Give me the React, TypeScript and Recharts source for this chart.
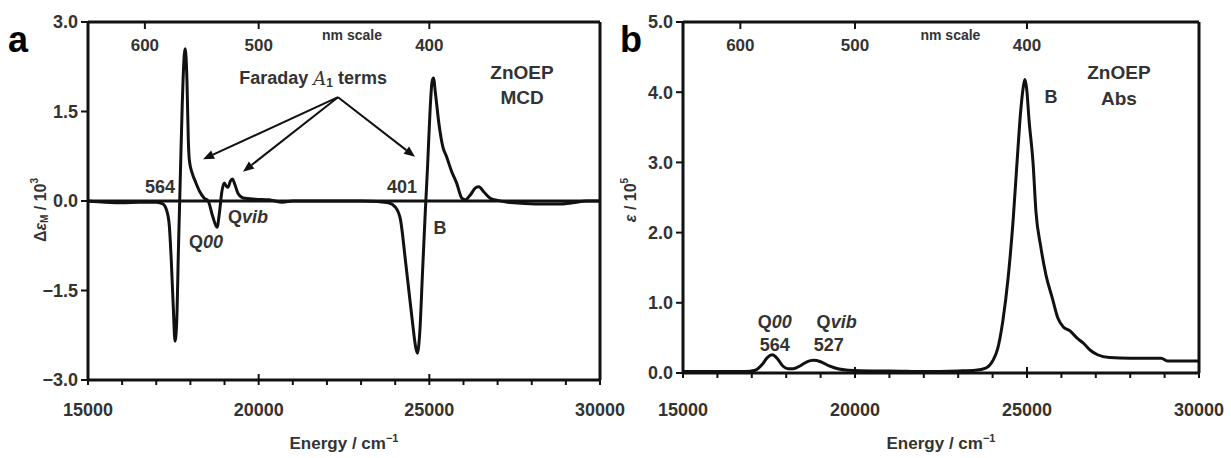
import React from 'react';
import { LineChart, Line, XAxis, YAxis, ReferenceLine, ReferenceDot } from 'recharts';

// ---------- data ----------
const mcdEnergy = [
  15000, 15500, 16000, 16500, 17000, 17200, 17300, 17380, 17440, 17500, 17550, 17600, 17650, 17700,
  17760, 17820, 17850, 17900, 17940, 17970, 18050, 18150, 18280, 18400, 18520, 18650, 18780, 18850,
  18920, 18990, 19050, 19100, 19170, 19230, 19300, 19400, 19550, 19900, 20300, 20700, 21000, 22000,
  23000, 23500, 23800, 24000, 24150, 24300, 24400, 24500, 24600, 24650, 24720, 24800, 24880, 24950,
  25020, 25080, 25120, 25180, 25280, 25400, 25500, 25650, 25800, 25950, 26050, 26200, 26350, 26450,
  26600, 26800, 27000, 27300, 27800, 28300, 28800, 29200, 29600, 30000,
];
const mcdValue = [
  0, -0.02, -0.03, -0.02, -0.02, -0.05, -0.15, -0.4, -1.0, -1.8, -2.35, -2.0, -0.8, 0.3,
  1.6, 2.45, 2.55, 2.0, 1.0, 0.68, 0.47, 0.32, 0.15, 0.05, 0, -0.25, -0.44, -0.2,
  0.15, 0.3, 0.25, 0.23, 0.33, 0.37, 0.28, 0.12, 0.05, 0.03, 0.02, -0.02, 0, 0,
  0, -0.01, -0.03, -0.1, -0.3, -1.0, -1.5, -2.0, -2.45, -2.55, -2.2, -1.2, -0.2, 0.6,
  1.5, 2.0, 2.06, 1.8, 1.3, 0.9, 0.75, 0.5, 0.3, 0.05, 0.02, 0.1, 0.22, 0.24,
  0.15, 0.04, 0.01, -0.02, -0.04, -0.05, -0.05, -0.03, 0, 0,
];

const absEnergy = [
  15000, 16000, 16800, 17100, 17300, 17450, 17600, 17750, 17900, 18050, 18200, 18400, 18600, 18800,
  19000, 19250, 19500, 19800, 20500, 21000, 22000, 23000, 23500, 23800, 24000, 24150, 24300, 24450,
  24600, 24710, 24820, 24900, 24940, 24990, 25060, 25175, 25260, 25400, 25550, 25740, 25900, 26050,
  26250, 26450, 26650, 26850, 27050, 27400, 28000, 28900, 29100, 30000,
];
const absValue = [
  0.02, 0.02, 0.02, 0.04, 0.12, 0.22, 0.26, 0.2, 0.1, 0.06, 0.06, 0.1, 0.16, 0.18,
  0.16, 0.1, 0.06, 0.04, 0.03, 0.03, 0.02, 0.03, 0.04, 0.07, 0.17, 0.35, 0.75, 1.35,
  2.2, 3.0, 3.75, 4.1, 4.18, 4.05, 3.6, 3.0, 2.3, 1.8, 1.4, 1.06, 0.78, 0.66,
  0.6, 0.5, 0.42, 0.32, 0.26, 0.22, 0.21, 0.21, 0.17, 0.17,
];

const energyDomain = [15000, 30000];
const energyTicks = [15000, 16000, 17000, 18000, 19000, 20000, 21000, 22000, 23000, 24000, 25000, 26000, 27000, 28000, 29000, 30000];
const energyLabelTicks = [15000, 20000, 25000, 30000];
const innerMajorTicks = [20000, 25000];
const nmTicks = [600, 500, 400];
const mcdYTicks = [-3, -1.5, 0, 1.5, 3];
const absYTicks = [0, 1, 2, 3, 4, 5];

// annotations (data coordinates)
const faradayApex = { x: 22325, y: 1.74 };
const faradayTips = [
  { x: 18370, y: 0.7 },
  { x: 19540, y: 0.49 },
  { x: 24580, y: 0.74 },
];

const mcdData = mcdEnergy.map((e, i) => ({ e, v: mcdValue[i] }));
const absData = absEnergy.map((e, i) => ({ e, v: absValue[i] }));
const nmAsEnergy = nmTicks.map((nm) => 1e7 / nm);

// ---------- style ----------
const FONT = '"Liberation Sans", Arial, Helvetica, sans-serif';
const INK = '#111';
const TXT = '#333';
const tickStyle = { fontSize: 18, fontWeight: 'bold', fill: TXT, fontFamily: FONT };
const axisLineStyle = { stroke: INK, strokeWidth: 3 };
const tickLineStyle = { stroke: INK, strokeWidth: 2 };

const fmtEnergy = (v: number) => (energyLabelTicks.includes(v) ? String(v) : '');
const fmtNm = (v: number) => String(Math.round(1e7 / v));
const fmtSigned = (v: number) => (v < 0 ? '\u2212' + Math.abs(v).toFixed(1) : v.toFixed(1));

const arrowShape = (p: any) => {
  const { x1, y1, x2, y2 } = p;
  const dx = x2 - x1;
  const dy = y2 - y1;
  const len = Math.hypot(dx, dy) || 1;
  const ux = dx / len;
  const uy = dy / len;
  const hl = 11;
  const hw = 4.5;
  const bx = x2 - ux * hl;
  const by = y2 - uy * hl;
  return (
    <g>
      <line x1={x1} y1={y1} x2={bx} y2={by} stroke={INK} strokeWidth={2} />
      <polygon points={`${x2},${y2} ${bx - uy * hw},${by + ux * hw} ${bx + uy * hw},${by - ux * hw}`} fill={INK} />
    </g>
  );
};

// upward stub at the bottom axis (major ticks cross the axis line)
const bottomStub = (p: any) => {
  const bot = Math.max(p.y1, p.y2);
  return <line x1={p.x1} x2={p.x1} y1={bot} y2={bot - 6} stroke={INK} strokeWidth={2} />;
};

const note = (key: string, x: number, y: number, content: React.ReactNode, size = 18) => (
  <ReferenceDot
    key={key}
    x={x}
    y={y}
    r={0}
    fill="none"
    stroke="none"
    ifOverflow="visible"
    label={{
      content: (props: any) => {
        const vb = props.viewBox || {};
        const cx = (vb.x || 0) + (vb.width || 0) / 2;
        const cy = (vb.y || 0) + (vb.height || 0) / 2;
        return (
          <text
            x={cx}
            y={cy}
            textAnchor="middle"
            dominantBaseline="central"
            fontFamily={FONT}
            fontWeight="bold"
            fontSize={size}
            fill={TXT}
          >
            {content}
          </text>
        );
      },
    }}
  />
);

const xLabel = (props: any) => {
  const vb = props.viewBox || {};
  const cx = vb.x + vb.width / 2;
  return (
    <text x={cx} y={449} textAnchor="middle" fontFamily={FONT} fontWeight="bold" fontSize={17} fill={TXT}>
      <tspan>Energy / cm</tspan>
      <tspan fontSize={11} dy={-7}>{'\u22121'}</tspan>
    </text>
  );
};

const mcdYLabel = () => {
  const cx = 40;
  const cy = 210;
  return (
    <text
      x={cx}
      y={cy}
      transform={`rotate(-90, ${cx}, ${cy})`}
      textAnchor="middle"
      dominantBaseline="central"
      fontFamily={FONT}
      fontWeight="bold"
      fontSize={16}
      fill={TXT}
    >
      <tspan>Δ</tspan>
      <tspan fontStyle="italic">ε</tspan>
      <tspan fontSize={10} dy={4}>M</tspan>
      <tspan dy={-4}> / 10</tspan>
      <tspan fontSize={10} dy={-6}>3</tspan>
    </text>
  );
};

const absYLabel = () => {
  const cx = 10;
  const cy = 200;
  return (
    <text
      x={cx}
      y={cy}
      transform={`rotate(-90, ${cx}, ${cy})`}
      textAnchor="middle"
      dominantBaseline="central"
      fontFamily={FONT}
      fontWeight="bold"
      fontSize={16}
      fill={TXT}
    >
      <tspan fontStyle="italic">ε</tspan>
      <tspan> / 10</tspan>
      <tspan fontSize={10} dy={-6}>5</tspan>
    </text>
  );
};

const Qtext = (suffix: string) => (
  <>
    <tspan>Q</tspan>
    <tspan fontStyle="italic">{suffix}</tspan>
  </>
);

function Panel({ data, yDomain, yTicks, width, margin, yWidth, xHeight, xTickMargin, yLabel, children }: any) {
  return (
    <LineChart width={width} height={458} data={data} margin={margin}>
      <XAxis
        dataKey="e"
        type="number"
        domain={energyDomain}
        allowDataOverflow
        ticks={energyTicks}
        interval={0}
        tickSize={5}
        tickMargin={xTickMargin}
        tickFormatter={fmtEnergy}
        height={xHeight}
        axisLine={axisLineStyle}
        tickLine={tickLineStyle}
        tick={tickStyle}
        label={{ content: xLabel }}
      />
      {/* top frame: nm scale with inward ticks */}
      <XAxis
        xAxisId="top"
        dataKey="e"
        type="number"
        domain={energyDomain}
        allowDataOverflow
        orientation="top"
        height={1}
        ticks={nmAsEnergy}
        interval={0}
        tickSize={-7}
        tickMargin={-22}
        tickFormatter={fmtNm}
        axisLine={axisLineStyle}
        tickLine={tickLineStyle}
        tick={{ ...tickStyle, fontSize: 17 }}
      />
      <YAxis
        type="number"
        domain={yDomain}
        allowDataOverflow
        ticks={yTicks}
        interval={0}
        width={yWidth}
        tickSize={7}
        tickMargin={3}
        tickFormatter={fmtSigned}
        axisLine={axisLineStyle}
        tickLine={tickLineStyle}
        tick={tickStyle}
        label={{ content: yLabel }}
      />
      {/* right frame */}
      <YAxis
        yAxisId="right"
        type="number"
        domain={yDomain}
        allowDataOverflow
        orientation="right"
        width={1}
        ticks={yTicks}
        tick={false}
        tickLine={false}
        axisLine={axisLineStyle}
      />
      {innerMajorTicks.map((e: number) => (
        <ReferenceLine key={'imt' + e} x={e} shape={bottomStub} ifOverflow="visible" />
      ))}
      {children}
      <Line xAxisId="top" dataKey="v" stroke="none" dot={false} activeDot={false} isAnimationActive={false} />
      <Line yAxisId="right" dataKey="v" stroke="none" dot={false} activeDot={false} isAnimationActive={false} />
      <Line
        dataKey="v"
        type="monotone"
        stroke={INK}
        strokeWidth={3}
        dot={false}
        activeDot={false}
        isAnimationActive={false}
      />
    </LineChart>
  );
}

export default function App() {
  return (
    <div style={{ position: 'absolute', left: 0, top: 0, width: 1231, height: 458, background: '#fff', overflow: 'hidden' }}>
      <div style={{ position: 'absolute', left: 0, top: 0 }}>
        <Panel
          data={mcdData}
          yDomain={[-3, 3]}
          yTicks={mcdYTicks}
          width={640}
          margin={{ top: 21, right: 39, bottom: 28, left: 0 }}
          yWidth={88}
          xHeight={50}
          xTickMargin={18}
          yLabel={mcdYLabel}
        >
          <ReferenceLine y={0} stroke={INK} strokeWidth={3} />
          {faradayTips.map((t, i) => (
            <ReferenceLine key={'arr' + i} segment={[faradayApex, t]} shape={arrowShape} ifOverflow="visible" />
          ))}
          {note('nm', 22735, 2.78, 'nm scale', 14)}
          {note(
            'far',
            21593,
            2.06,
            <>
              <tspan>Faraday </tspan>
              <tspan fontStyle="italic" fontFamily='"DejaVu Serif", serif' fontWeight="normal">A</tspan>
              <tspan fontSize={12} dy={5}>1</tspan>
              <tspan dy={-5}> terms</tspan>
            </>,
            18
          )}
          {note('564', 17110, 0.23, '564')}
          {note('401', 24200, 0.23, '401')}
          {note('q00', 18457, -0.69, Qtext('00'))}
          {note('qvib', 19688, -0.27, Qtext('vib'))}
          {note('B', 25314, -0.45, 'B')}
          {note('zn', 27716, 2.16, 'ZnOEP', 19)}
          {note('mcd', 27716, 1.73, 'MCD', 19)}
          <text x={8} y={52} fontFamily={FONT} fontWeight="bold" fontSize={36} fill="#000">a</text>
        </Panel>
      </div>
      <div style={{ position: 'absolute', left: 620, top: 0 }}>
        <Panel
          data={absData}
          yDomain={[0, 5]}
          yTicks={absYTicks}
          width={611}
          margin={{ top: 21, right: 31, bottom: 30, left: 0 }}
          yWidth={63}
          xHeight={55}
          xTickMargin={25}
          yLabel={absYLabel}
        >
          {note('nm2', 22774, 4.81, 'nm scale', 14)}
          {note('zn2', 27673, 4.28, 'ZnOEP', 19)}
          {note('abs', 27673, 3.91, 'Abs', 19)}
          {note('B2', 25701, 3.93, 'B')}
          {note('q00b', 17668, 0.73, Qtext('00'))}
          {note('564b', 17668, 0.4, '564')}
          {note('qvibb', 19466, 0.73, Qtext('vib'))}
          {note('527', 19234, 0.4, '527')}
          <text x={0} y={52} fontFamily={FONT} fontWeight="bold" fontSize={36} fill="#000">b</text>
        </Panel>
      </div>
    </div>
  );
}
